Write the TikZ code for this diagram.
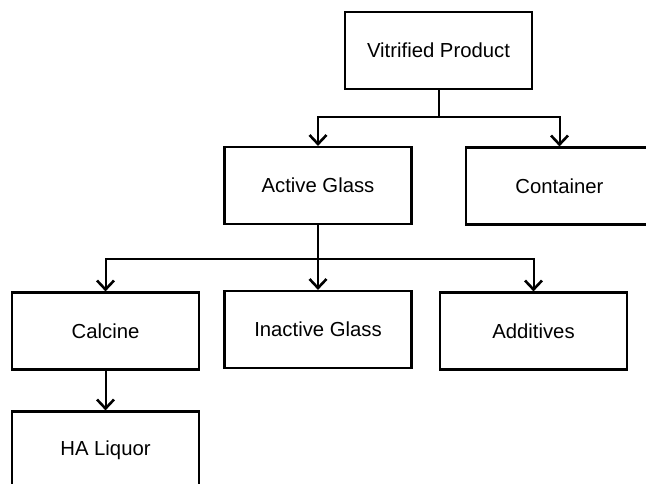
\documentclass[tikz,border=0pt]{standalone}
\usepackage{fontspec}
\setmainfont{Liberation Sans}
\usetikzlibrary{arrows.meta}
\begin{document}
\begin{tikzpicture}[x=1pt,y=-1pt,
  box/.style={draw=black, line width=2.2pt, minimum width=187pt, minimum height=77pt, inner sep=0pt, font=\fontsize{20.3}{23}\selectfont},
  conn/.style={draw=black, line width=2pt},
  arr/.style={conn, -{Straight Barb[length=9pt,width=17pt,line width=2.6pt]}}]
\clip (0,0) rectangle (646,483);
\useasboundingbox (0,0) rectangle (646,483);
\fill[white] (0,0) rectangle (646,483);
\node[box] (vp) at (438.5,50.5) {Vitrified Product};
\node[box] (ag) at (318,185.5) {Active Glass};
\node[box] (ct) at (559.5,186) {Container};
\node[box] (ca) at (105.5,331) {Calcine};
\node[box] (ig) at (318,329.5) {Inactive Glass};
\node[box] (ad) at (533.5,331) {Additives};
\node[box] (ha) at (105.5,450) {HA Liquor};
\coordinate (j1) at (438.5,117);
\coordinate (j2) at (318,259);
\draw[conn] (vp.south) -- (j1);
\draw[arr] (j1) -| (ag.north);
\draw[arr] (j1) -| (ct.north);
\draw[conn] (ag.south) -- (j2);
\draw[arr] (j2) -| (ca.north);
\draw[arr] (j2) -- (ig.north);
\draw[arr] (j2) -| (ad.north);
\draw[arr] (ca.south) -- (ha.north);
\end{tikzpicture}
\end{document}
